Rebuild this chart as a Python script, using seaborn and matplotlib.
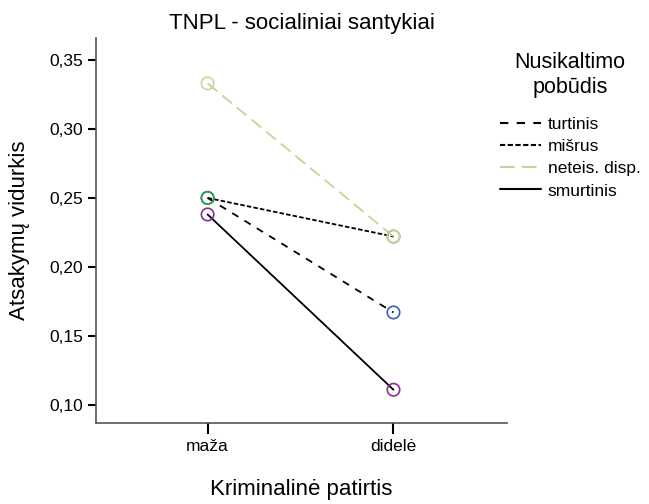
import pandas as pd
import matplotlib.pyplot as plt
import seaborn as sns
from matplotlib.lines import Line2D
from matplotlib.ticker import FuncFormatter

# values
categories = ['maža', 'didelė']
groups = ['turtinis', 'mišrus', 'neteis. disp.', 'smurtinis']
turtinis = [0.250, 0.167]
misrus = [0.250, 0.222]
neteis = [0.333, 0.222]
smurtinis = [0.238, 0.111]

line_colors = {'turtinis': 'black', 'mišrus': 'black',
               'neteis. disp.': '#d3cd94', 'smurtinis': 'black'}
marker_colors = {'turtinis': '#3e5cbf', 'mišrus': '#27a04a',
                 'neteis. disp.': '#cfd49c', 'smurtinis': '#8e2d8e'}
dash_styles = {'turtinis': (4, 4), 'mišrus': (2.5, 1.2),
               'neteis. disp.': (7, 3.5), 'smurtinis': ''}

rows = []
for g, vals in zip(groups, [turtinis, misrus, neteis, smurtinis]):
    for c, v in zip(categories, vals):
        rows.append({'patirtis': c, 'vidurkis': v, 'grupe': g})
df = pd.DataFrame(rows)

sns.set_style('ticks')
plt.rcParams['font.family'] = ['Liberation Sans', 'DejaVu Sans']
plt.rcParams['text.color'] = 'black'
plt.rcParams['axes.labelcolor'] = 'black'
plt.rcParams['xtick.color'] = 'black'
plt.rcParams['ytick.color'] = 'black'

fig = plt.figure(figsize=(6.49, 5.04), dpi=100)
ax = fig.add_axes([0.148, 0.161, 0.633, 0.764])

sns.lineplot(data=df, x='patirtis', y='vidurkis', hue='grupe', style='grupe',
             palette=line_colors, dashes=dash_styles, hue_order=groups,
             style_order=groups, linewidth=1.3, legend=False, ax=ax)
sns.scatterplot(data=df, x='patirtis', y='vidurkis', hue='grupe',
                palette=marker_colors, hue_order=groups, s=80,
                legend=False, ax=ax, zorder=3)
pts = ax.collections[-1]
fc = pts.get_facecolors()
pts.set_facecolors('none')
pts.set_edgecolors(fc)
pts.set_linewidths(1.2)

ax.set_xlim(-0.6, 1.61)
ax.set_ylim(0.087, 0.366)
ax.set_yticks([0.10, 0.15, 0.20, 0.25, 0.30, 0.35])
ax.yaxis.set_major_formatter(FuncFormatter(lambda v, p: f'{v:.2f}'.replace('.', ',')))
ax.tick_params(axis='both', labelsize=12.5, length=6, width=1.5, color='black',
               labelcolor='black')
ax.tick_params(axis='x', length=8)
for side in ['top', 'right']:
    ax.spines[side].set_visible(False)
for side in ['left', 'bottom']:
    ax.spines[side].set_color('#555555')
    ax.spines[side].set_linewidth(1.2)

ax.set_title('TNPL - socialiniai santykiai', fontsize=16, pad=6, color='black')
ax.set_xlabel('Kriminalinė patirtis', fontsize=16, labelpad=18)
ax.set_ylabel('Atsakymų vidurkis', fontsize=16, labelpad=14)

handles = [Line2D([], [], color=line_colors[g], lw=1.5,
                  dashes=dash_styles[g] if dash_styles[g] else (None, None))
           for g in groups]
leg = fig.legend(handles, groups, title='Nusikaltimo\npobūdis', loc='upper left',
                 bbox_to_anchor=(0.746, 0.927), frameon=False, fontsize=12.5,
                 title_fontsize=15.5, handlelength=2.4, handletextpad=0.35,
                 labelspacing=0.4)
leg.get_title().set_multialignment('center')
leg._legend_box.sep = 14

fig.savefig('out.png', dpi=100)
